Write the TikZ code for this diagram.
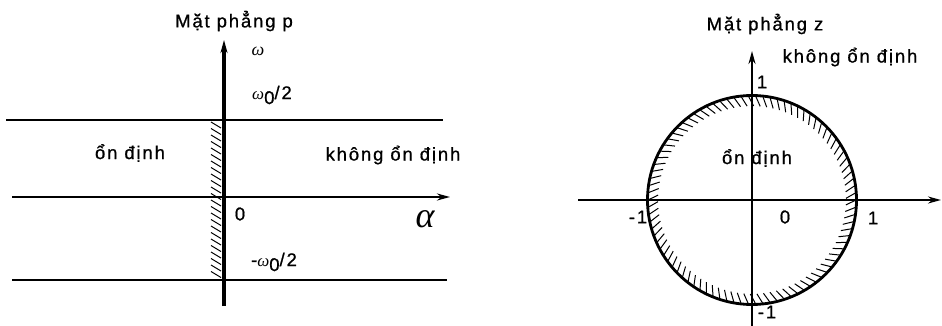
\documentclass[tikz,border=0pt]{standalone}
\usepackage{fontspec}
\setmainfont[LetterSpace=10,FakeBold=0.8]{Liberation Sans}
\newfontfamily\greekit{Liberation Serif}
\usetikzlibrary{positioning,arrows.meta}

\tikzset{
  lbl/.style={font=\fontsize{18.5}{21}\selectfont, inner sep=0pt},
  small/.style={font=\fontsize{18}{18}\selectfont\greekit\itshape, inner sep=0pt},
  axis/.style={line width=2.6pt, -{Stealth[length=13pt,width=7pt]}},
  band/.style={line width=2.6pt},
  hatch/.style={line width=1pt},
}
\newcommand{\wnull}{{\fontsize{17}{17}\selectfont\greekit\itshape ω}\raisebox{-0.5ex}{0}/2}

\begin{document}
\begin{tikzpicture}[x=1pt,y=-1pt]
\useasboundingbox (0,0) rectangle (942,326);
% Mat phang p
\coordinate (pO) at (224,197);
\coordinate (pbot) at (224,306);
\coordinate (ptop) at (224,40);
\coordinate (pleft) at (12,197);
\coordinate (pright) at (450,197);
\coordinate (bandTL) at (6,120);
\coordinate (bandTR) at (443,120);
\coordinate (bandBL) at (12,280);
\coordinate (bandBR) at (447,280);
\foreach \y in {122,128.5,...,274}
  \draw[hatch] (211,\y) -- (221,\y+6);
\draw[axis,line width=3.2pt] (pbot) -- (ptop);
\draw[axis] (pleft) -- (pright);
\draw[band] (bandTL) -- (bandTR);
\draw[band] (bandBL) -- (bandBR);
\node[lbl] (ptitle) at (234,21) {Mặt phẳng p};
\node[small] (pomega) at (258,51) {ω};
\node[lbl] (pwtop) at (272,95) {\wnull};
\node[lbl] (pstab) at (130,153) {ổn định};
\node[lbl] (punst) at (393,155) {không ổn định};
\node[lbl] (pzero) at (240,214) {0};
\node[font=\fontsize{36}{36}\selectfont\greekit\itshape, inner sep=0pt] (palpha) at (425,219) {α};
\node[lbl] (pwbot) at (274,262) {-\wnull};
% Mat phang z
\coordinate (zO) at (752,200);
\coordinate (zbot) at (752,326);
\coordinate (ztop) at (752,51);
\coordinate (zleft) at (578,200);
\coordinate (zright) at (941,200);
\begin{scope}[shift={(zO)}]
  \foreach \a in {0,4,...,356}
    \draw[hatch] (\a:104) -- (\a+3:94);
\end{scope}
\draw[line width=2.8pt] (zO) circle[radius=104.5];
\draw[axis,line width=2pt] (zbot) -- (ztop);
\draw[axis,line width=2pt] (zleft) -- (zright);
\node[lbl] (ztitle) at (765,24) {Mặt phẳng z};
\node[lbl] (zunst) at (850,57) {không ổn định};
\node[lbl] (zone) at (762,82) {1};
\node[lbl] (zstab) at (757,158) {ổn định};
\node[lbl] (zmone) at (638,217) {-1};
\node[lbl] (zzero) at (785,217) {0};
\node[lbl] (zoneR) at (873,218) {1};
\node[lbl] (zmoneB) at (767,312) {-1};
\end{tikzpicture}
\end{document}
